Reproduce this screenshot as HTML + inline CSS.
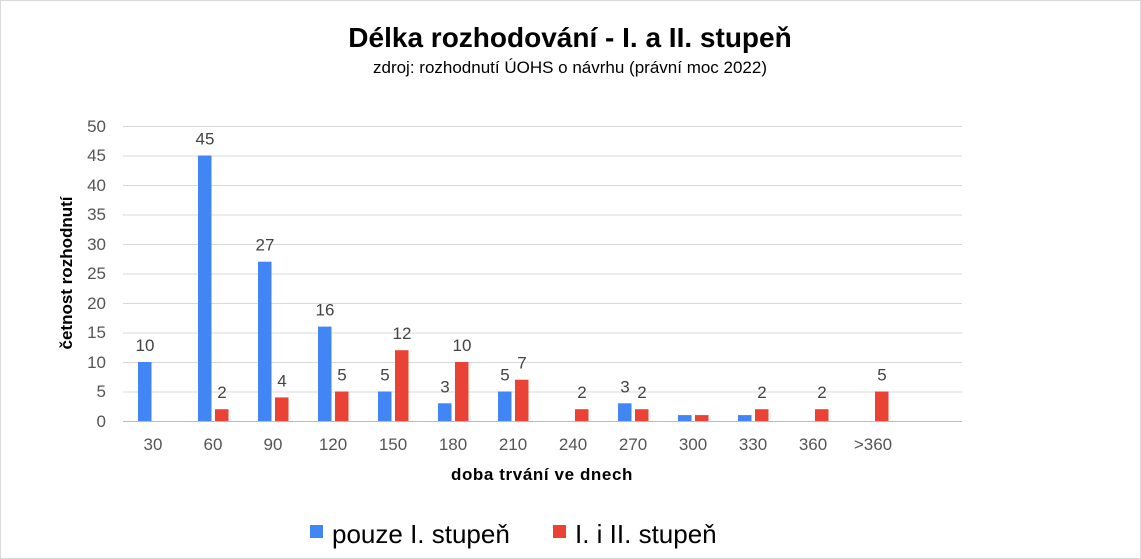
<!DOCTYPE html><html><head><style>body{margin:0;background:#fff}svg{display:block}text{font-family:"Liberation Sans",sans-serif}</style></head><body>
<svg width="1141" height="559" viewBox="0 0 1141 559">
<rect x="0.5" y="0.5" width="1140" height="558" fill="#fff" stroke="#d9d9d9"/>
<text x="570" y="47" text-anchor="middle" font-size="28" font-weight="bold" fill="#000">Délka rozhodování - I. a II. stupeň</text>
<text x="570" y="73" text-anchor="middle" font-size="17" fill="#000">zdroj: rozhodnutí ÚOHS o návrhu (právní moc 2022)</text>
<g stroke="#d9d9d9" stroke-width="1">
<line x1="123" x2="962" y1="126.5" y2="126.5"/><line x1="123" x2="962" y1="156" y2="156"/><line x1="123" x2="962" y1="185.5" y2="185.5"/><line x1="123" x2="962" y1="215" y2="215"/><line x1="123" x2="962" y1="244.5" y2="244.5"/><line x1="123" x2="962" y1="274" y2="274"/><line x1="123" x2="962" y1="303.5" y2="303.5"/><line x1="123" x2="962" y1="333" y2="333"/><line x1="123" x2="962" y1="362.5" y2="362.5"/><line x1="123" x2="962" y1="392" y2="392"/><line x1="123" x2="962" y1="421.5" y2="421.5" stroke="#bbb"/>
</g>
<g font-size="17" fill="#555" text-anchor="end">
<text x="106" y="132">50</text><text x="106" y="161">45</text><text x="106" y="191">40</text><text x="106" y="220">35</text><text x="106" y="250">30</text><text x="106" y="279">25</text><text x="106" y="309">20</text><text x="106" y="338">15</text><text x="106" y="368">10</text><text x="106" y="397">5</text><text x="106" y="427">0</text>
</g>
<text transform="translate(72,273) rotate(-90)" text-anchor="middle" font-size="17" font-weight="bold" fill="#000">četnost rozhodnutí</text>
<g fill="#4285F4">
<rect x="138" y="362" width="13.5" height="59"/>
<rect x="198" y="155.5" width="13.5" height="265.5"/>
<rect x="258" y="261.7" width="13.5" height="159.3"/>
<rect x="318" y="326.6" width="13.5" height="94.4"/>
<rect x="378" y="391.5" width="13.5" height="29.5"/>
<rect x="438" y="403.3" width="13.5" height="17.7"/>
<rect x="498" y="391.5" width="13.5" height="29.5"/>
<rect x="618" y="403.3" width="13.5" height="17.7"/>
<rect x="678" y="415.1" width="13.5" height="5.9"/>
<rect x="738" y="415.1" width="13.5" height="5.9"/>
</g>
<g fill="#EA4335">
<rect x="215" y="409.2" width="13.5" height="11.8"/>
<rect x="275" y="397.4" width="13.5" height="23.6"/>
<rect x="335" y="391.5" width="13.5" height="29.5"/>
<rect x="395" y="350.2" width="13.5" height="70.8"/>
<rect x="455" y="362" width="13.5" height="59"/>
<rect x="515" y="379.7" width="13.5" height="41.3"/>
<rect x="575" y="409.2" width="13.5" height="11.8"/>
<rect x="635" y="409.2" width="13.5" height="11.8"/>
<rect x="695" y="415.1" width="13.5" height="5.9"/>
<rect x="755" y="409.2" width="13.5" height="11.8"/>
<rect x="815" y="409.2" width="13.5" height="11.8"/>
<rect x="875" y="391.5" width="13.5" height="29.5"/>
</g>
<g font-size="17" fill="#444" text-anchor="middle" transform="translate(0,-3)">
<text x="145" y="354">10</text>
<text x="205" y="147.5">45</text><text x="222" y="401.2">2</text>
<text x="265" y="253.7">27</text><text x="282" y="389.4">4</text>
<text x="325" y="318.6">16</text><text x="342" y="383.5">5</text>
<text x="385" y="383.5">5</text><text x="402" y="342.2">12</text>
<text x="445" y="395.3">3</text><text x="462" y="354">10</text>
<text x="505" y="383.5">5</text><text x="522" y="371.7">7</text>
<text x="582" y="401.2">2</text>
<text x="625" y="395.3">3</text><text x="642" y="401.2">2</text>
<text x="762" y="401.2">2</text>
<text x="822" y="401.2">2</text>
<text x="882" y="383.5">5</text>
</g>
<g font-size="17" fill="#555" text-anchor="middle">
<text x="153" y="450">30</text><text x="213" y="450">60</text><text x="273" y="450">90</text><text x="333" y="450">120</text><text x="393" y="450">150</text><text x="453" y="450">180</text><text x="513" y="450">210</text><text x="573" y="450">240</text><text x="633" y="450">270</text><text x="693" y="450">300</text><text x="753" y="450">330</text><text x="813" y="450">360</text><text x="873" y="450">&gt;360</text>
</g>
<text x="542" y="480" text-anchor="middle" font-size="17" font-weight="bold" fill="#000" letter-spacing="0.6">doba trvání ve dnech</text>
<rect x="310" y="525" width="13" height="13" fill="#4285F4"/>
<text x="332" y="543" font-size="26" fill="#000">pouze I. stupeň</text>
<rect x="553" y="525" width="13" height="13" fill="#EA4335"/>
<text x="575" y="543" font-size="26" fill="#000">I. i II. stupeň</text>
</svg></body></html>
